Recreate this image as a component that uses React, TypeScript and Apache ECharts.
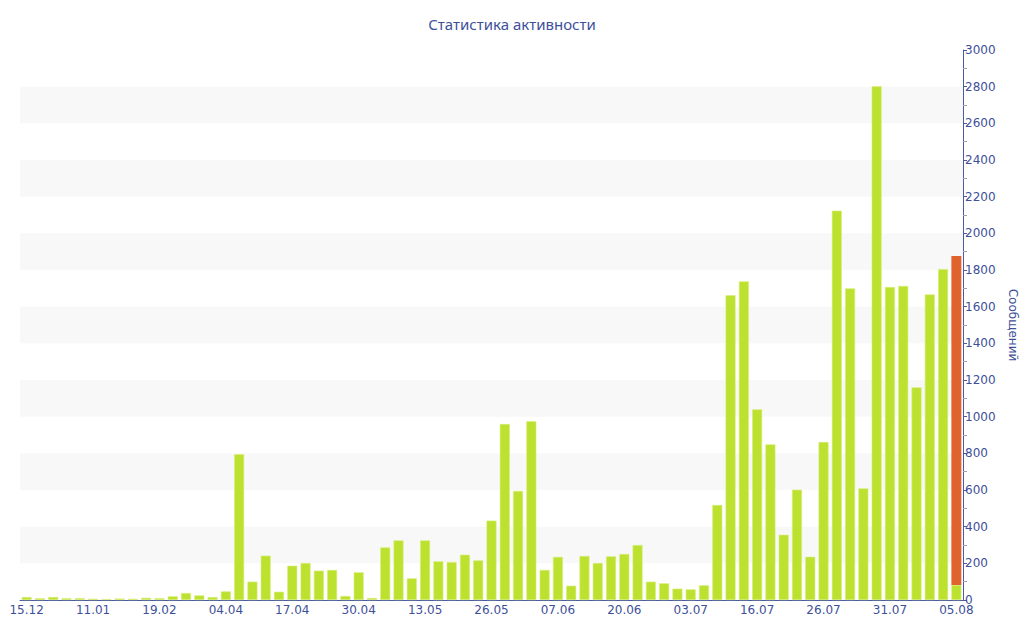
import React, { useEffect, useRef } from "react";
import * as echarts from "echarts";

const categories = [
  "15.12", "20.12", "26.12", "31.12", "06.01", "11.01",
  "19.01", "27.01", "04.02", "11.02", "19.02",
  "28.02", "08.03", "17.03", "26.03", "04.04",
  "07.04", "09.04", "12.04", "14.04", "17.04",
  "20.04", "22.04", "25.04", "27.04", "30.04",
  "03.05", "05.05", "08.05", "10.05", "13.05",
  "16.05", "18.05", "21.05", "23.05", "26.05",
  "29.05", "31.05", "02.06", "05.06", "07.06",
  "10.06", "12.06", "15.06", "17.06", "20.06",
  "23.06", "25.06", "28.06", "30.06", "03.07",
  "06.07", "08.07", "11.07", "13.07", "16.07",
  "18.07", "20.07", "22.07", "24.07", "26.07",
  "27.07", "28.07", "29.07", "30.07", "31.07",
  "01.08", "02.08", "03.08", "04.08", "05.08",
];

const messages = [
  16, 10, 16, 10, 10, 7,
  5, 8, 7, 12, 10,
  20, 38, 25, 16, 47,
  795, 100, 242, 45, 187,
  202, 160, 164, 22, 151,
  11, 287, 325, 118, 325,
  211, 207, 247, 216, 433,
  960, 595, 975, 164, 235,
  78, 240, 202, 238, 251,
  300, 100, 91, 62, 58,
  80, 518, 1662, 1738, 1040,
  849, 356, 602, 236, 862,
  2124, 1700, 609, 2802, 1707,
  1713, 1160, 1667, 1805, 82,
];

const todayExtra: (number | null)[] = categories.map((_, i) =>
  i === categories.length - 1 ? 1794 : null
);

const yTicks = [0, 3000, 200];

const TEXT = "#3e4f9a";
const AXIS = "#4a5ca0";

export default function App() {
  const ref = useRef<HTMLDivElement>(null);
  useEffect(() => {
    if (!ref.current) return;
    const chart = echarts.init(ref.current, undefined, { renderer: "svg" });
    chart.setOption({
      animation: false,
      backgroundColor: "#ffffff",
      title: {
        text: "Статистика активности",
        left: "center",
        top: 11,
        textStyle: {
          color: TEXT,
          fontSize: 15,
          fontWeight: "normal",
          fontFamily: "Noto Sans",
        },
      },
      grid: { left: 20, right: 61, top: 50, bottom: 40, outerBoundsMode: "none", containLabel: false },
      xAxis: {
        type: "category",
        data: categories,
        axisLine: { lineStyle: { color: AXIS, width: 1 } },
        axisTick: {
          alignWithLabel: true,
          interval: 4,
          length: 4,
          lineStyle: { color: AXIS },
        },
        axisLabel: {
          interval: 4,
          color: TEXT,
          fontSize: 12,
          fontFamily: "DejaVu Sans",
          margin: 4,
        },
      },
      yAxis: {
        type: "value",
        position: "right",
        min: yTicks[0],
        max: yTicks[1],
        interval: yTicks[2],
        name: "Сообщений",
        nameLocation: "middle",
        nameRotate: -90,
        nameGap: 44,
        nameTextStyle: { color: TEXT, fontSize: 12, fontFamily: "DejaVu Sans" },
        axisLine: { show: true, lineStyle: { color: AXIS } },
        axisTick: { show: true, length: 4, lineStyle: { color: AXIS } },
        minorTick: { show: true, splitNumber: 2, length: 4, lineStyle: { color: "#9aa2c2" } },
        axisLabel: {
          color: TEXT,
          fontSize: 12,
          fontFamily: "DejaVu Sans",
          margin: 2,
          formatter: (v: number) => String(v),
        },
        splitLine: { show: false },
        splitArea: {
          show: true,
          areaStyle: { color: ["rgba(255,255,255,0)", "#f8f8f8"] },
        },
      },
      series: [
        {
          type: "bar",
          stack: "total",
          data: messages,
          barCategoryGap: "25%",
          itemStyle: { color: "#bde12f", borderColor: "#d6ee7a", borderWidth: 0.6 },
        },
        {
          type: "bar",
          stack: "total",
          data: todayExtra,
          barCategoryGap: "25%",
          itemStyle: { color: "#e0632e" },
        },
      ],
    });
    return () => chart.dispose();
  }, []);
  return <div ref={ref} style={{ width: 1024, height: 640, position: "absolute", left: 0, top: 0 }} />;
}
